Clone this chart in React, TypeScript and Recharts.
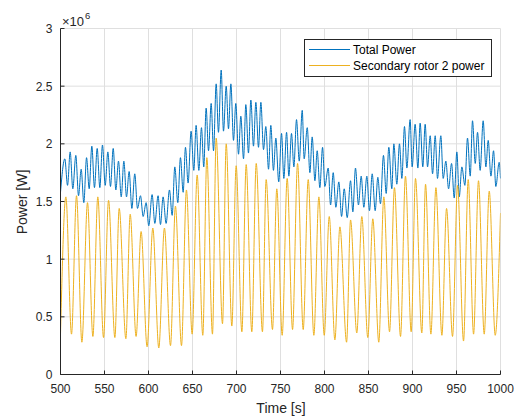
import React from "react";
import { LineChart, Line, XAxis, YAxis, CartesianGrid } from "recharts";

// Total power: peaks and troughs (time in s, power in 1e6 W)
const totalTime = [
  500.0, 504.9, 508.0, 511.0, 514.0, 517.4, 520.5, 523.5, 526.5, 529.6, 532.6, 535.6, 538.6, 541.7,
  544.7, 547.7, 550.8, 553.8, 556.8, 559.9, 562.9, 565.9, 569.0, 572.0, 575.0, 578.0, 581.1, 584.4,
  587.5, 590.9, 593.9, 597.3, 600.3, 604.1, 607.2, 610.9, 613.6, 616.6, 620.0, 623.8, 626.9, 629.9,
  633.3, 636.3, 639.4, 642.0, 645.0, 648.4, 651.5, 654.1, 657.2, 660.2, 662.8, 665.5, 668.2, 671.2,
  673.9, 676.9, 679.5, 682.6, 685.2, 688.3, 690.9, 693.6, 696.6, 699.2, 702.3, 704.9, 708.0, 710.6,
  713.6, 716.3, 719.3, 722.0, 725.0, 727.7, 730.7, 733.3, 736.4, 739.0, 742.0, 744.7, 748.0, 751.2,
  753.8, 756.9, 759.5, 762.5, 765.2, 768.2, 771.3, 774.7, 776.9, 780.4, 783.4, 786.0, 789.1, 791.7,
  794.7, 797.8, 800.4, 804.2, 806.9, 809.9, 812.9, 816.3, 819.4, 822.4, 825.8, 829.6, 832.2, 835.2,
  838.6, 841.7, 844.7, 848.1, 851.1, 854.2, 857.6, 860.6, 863.6, 867.0, 870.1, 873.1, 876.5, 878.8,
  882.2, 885.2, 887.9, 890.9, 893.6, 897.3, 899.6, 903.0, 906.1, 908.7, 911.7, 914.4, 917.1, 920.1,
  922.8, 925.8, 928.4, 932.2, 934.9, 937.9, 941.0, 944.4, 947.4, 950.4, 953.1, 956.1, 959.5, 962.5,
  965.6, 968.2, 971.3, 973.9, 976.9, 980.3, 983.4, 986.0, 989.1, 992.1, 994.7, 998.5, 1000,
];
const totalPower = [
  1.58, 1.87, 1.64, 1.93, 1.61, 1.9, 1.55, 1.78, 1.49, 1.88, 1.61, 1.98, 1.62, 1.96,
  1.62, 1.99, 1.64, 1.93, 1.63, 1.96, 1.6, 1.85, 1.54, 1.85, 1.54, 1.76, 1.44, 1.74,
  1.44, 1.55, 1.37, 1.49, 1.29, 1.56, 1.31, 1.55, 1.3, 1.54, 1.31, 1.6, 1.38, 1.8,
  1.49, 1.88, 1.58, 1.97, 1.66, 2.11, 1.77, 2.16, 1.77, 2.14, 1.8, 2.31, 1.94, 2.35,
  1.94, 2.52, 2.1, 2.64, 2.11, 2.5, 2.13, 2.52, 2.03, 2.35, 1.91, 2.24, 1.87, 2.34,
  1.92, 2.38, 1.98, 2.36, 1.97, 2.36, 1.95, 2.15, 1.78, 2.16, 1.77, 2.05, 1.67, 2.09,
  1.7, 2.1, 1.72, 2.09, 1.8, 2.21, 1.85, 2.29, 1.87, 2.14, 1.75, 2.06, 1.68, 1.94,
  1.62, 1.97, 1.63, 1.79, 1.47, 1.75, 1.45, 1.67, 1.37, 1.61, 1.36, 1.68, 1.41, 1.79,
  1.47, 1.72, 1.45, 1.72, 1.42, 1.74, 1.42, 1.71, 1.48, 1.9, 1.57, 1.97, 1.61, 2.0,
  1.65, 2.0, 1.7, 2.15, 1.79, 2.21, 1.8, 2.17, 1.79, 2.18, 1.8, 2.17, 1.8, 2.07,
  1.74, 2.07, 1.7, 2.07, 1.7, 1.85, 1.61, 1.83, 1.53, 1.93, 1.54, 1.8, 1.64, 2.05,
  1.72, 2.2, 1.83, 2.1, 1.77, 2.2, 1.8, 2.03, 1.72, 1.94, 1.63, 1.84, 1.7,
];

// Secondary rotor 2 power: peaks and troughs
const rotorTime = [
  500.0, 506.1, 512.5, 518.2, 524.3, 530.7, 536.8, 542.4, 548.9, 554.6, 561.8, 566.7, 574.3, 579.2,
  585.9, 591.6, 598.4, 604.9, 611.7, 618.1, 625.0, 630.6, 637.5, 643.1, 649.6, 655.3, 661.7, 666.3,
  672.7, 676.9, 684.1, 688.3, 694.7, 699.6, 706.1, 711.0, 717.4, 722.4, 729.5, 733.7, 740.9, 745.8,
  751.9, 757.6, 763.7, 769.4, 775.8, 781.5, 787.9, 793.6, 799.7, 805.4, 811.8, 817.5, 825.1, 829.6,
  836.7, 842.4, 849.2, 854.9, 861.7, 867.4, 873.9, 879.5, 886.4, 892.0, 898.5, 903.4, 910.6, 914.8,
  920.9, 926.6, 933.4, 938.7, 945.5, 951.2, 958.0, 963.3, 969.4, 975.0, 981.5, 987.2, 994.0, 1000,
];
const rotorPower = [
  0.35, 1.54, 0.35, 1.55, 0.28, 1.49, 0.33, 1.54, 0.32, 1.51, 0.32, 1.44, 0.31, 1.39,
  0.33, 1.24, 0.24, 1.27, 0.23, 1.27, 0.25, 1.46, 0.25, 1.6, 0.35, 1.73, 0.34, 1.88,
  0.35, 2.05, 0.44, 2.0, 0.42, 1.81, 0.37, 1.82, 0.37, 1.83, 0.37, 1.69, 0.39, 1.61,
  0.34, 1.7, 0.39, 1.83, 0.39, 1.69, 0.34, 1.54, 0.34, 1.37, 0.3, 1.28, 0.28, 1.34,
  0.36, 1.37, 0.32, 1.35, 0.28, 1.54, 0.37, 1.62, 0.33, 1.72, 0.37, 1.7, 0.36, 1.65,
  0.35, 1.62, 0.34, 1.44, 0.33, 1.64, 0.29, 1.69, 0.35, 1.68, 0.35, 1.59, 0.34, 1.4,
];

const xTicks = [500, 550, 600, 650, 700, 750, 800, 850, 900, 950, 1000];
const yTicks = [0, 0.5, 1, 1.5, 2, 2.5, 3];

const totalData = totalTime.map((t, i) => ({ t, p: totalPower[i] }));
const rotorData = rotorTime.map((t, i) => ({ t, p: rotorPower[i] }));

const AXIS = "#262626";
const GRID = "#dfdfdf";
const BLUE = "#0072BD";
const YELLOW = "#EDB120";
const FONT = "'Liberation Sans', Arial, Helvetica, sans-serif";

function BottomTick({ x, y, payload }: any) {
  return (
    <g>
      <line x1={x} x2={x} y1={y} y2={y - 4} stroke={AXIS} />
      <text x={x} y={y + 18.5} textAnchor="middle" fontSize={12} fill={AXIS} fontFamily={FONT}>
        {payload.value}
      </text>
    </g>
  );
}

function LeftTick({ x, y, payload }: any) {
  return (
    <g>
      <line x1={x} x2={x + 4} y1={y} y2={y} stroke={AXIS} />
      <text x={x - 8} y={y + 4.5} textAnchor="end" fontSize={12} fill={AXIS} fontFamily={FONT}>
        {payload.value}
      </text>
    </g>
  );
}

function TopTick({ x, y }: any) {
  return <line x1={x} x2={x} y1={y} y2={y + 4} stroke={AXIS} />;
}

function RightTick({ x, y }: any) {
  return <line x1={x} x2={x - 4} y1={y} y2={y} stroke={AXIS} />;
}

export default function App() {
  return (
    <div style={{ position: "absolute", left: 0, top: 0, width: 517, height: 416, background: "#fff" }}>
      <LineChart width={517} height={416} margin={{ top: 28.5, right: 16.5, bottom: 0, left: 0 }}>
        <CartesianGrid stroke={GRID} />
        <XAxis
          dataKey="t"
          type="number"
          domain={[500, 1000]}
          ticks={xTicks}
          height={41.5}
          tickSize={0}
          tickMargin={0}
          tick={BottomTick}
          axisLine={{ stroke: AXIS }}
          allowDataOverflow
        />
        <XAxis
          xAxisId="top"
          orientation="top"
          type="number"
          domain={[500, 1000]}
          ticks={xTicks}
          height={0}
          tickSize={0}
          tickMargin={0}
          tick={TopTick}
          axisLine={{ stroke: AXIS }}
        />
        <YAxis
          type="number"
          domain={[0, 3]}
          ticks={yTicks}
          width={60.5}
          tickSize={0}
          tickMargin={0}
          tick={LeftTick}
          axisLine={{ stroke: AXIS }}
          allowDataOverflow
        />
        <YAxis
          yAxisId="right"
          orientation="right"
          type="number"
          domain={[0, 3]}
          ticks={yTicks}
          width={0}
          tickSize={0}
          tickMargin={0}
          tick={RightTick}
          axisLine={{ stroke: AXIS }}
        />
        <Line
          data={totalData}
          dataKey="p"
          type="monotoneX"
          stroke={BLUE}
          strokeWidth={1}
          dot={false}
          isAnimationActive={false}
        />
        <Line
          data={rotorData}
          dataKey="p"
          type="monotoneX"
          stroke={YELLOW}
          strokeWidth={1}
          dot={false}
          isAnimationActive={false}
        />
      </LineChart>
      <svg
        width={517}
        height={416}
        style={{ position: "absolute", left: 0, top: 0, pointerEvents: "none" }}
        fontFamily={FONT}
      >
        <text x={62} y={25.5} fontSize={13} fill={AXIS}>
          ×10
        </text>
        <text x={85} y={19} fontSize={9.5} fill={AXIS}>
          6
        </text>
        <text x={281} y={413} textAnchor="middle" fontSize={14} fill={AXIS}>
          Time [s]
        </text>
        <text
          x={27}
          y={202}
          textAnchor="middle"
          fontSize={14}
          fill={AXIS}
          transform="rotate(-90 27 202)"
        >
          Power [W]
        </text>
        <rect x={304.5} y={39.5} width={187} height={37} fill="#fff" stroke={AXIS} />
        <line x1={309} x2={350} y1={49.5} y2={49.5} stroke={BLUE} />
        <text x={353} y={53.5} fontSize={12} fill="#000">
          Total Power
        </text>
        <line x1={309} x2={350} y1={65.5} y2={65.5} stroke={YELLOW} />
        <text x={353} y={69.5} fontSize={12} fill="#000">
          Secondary rotor 2 power
        </text>
      </svg>
    </div>
  );
}
